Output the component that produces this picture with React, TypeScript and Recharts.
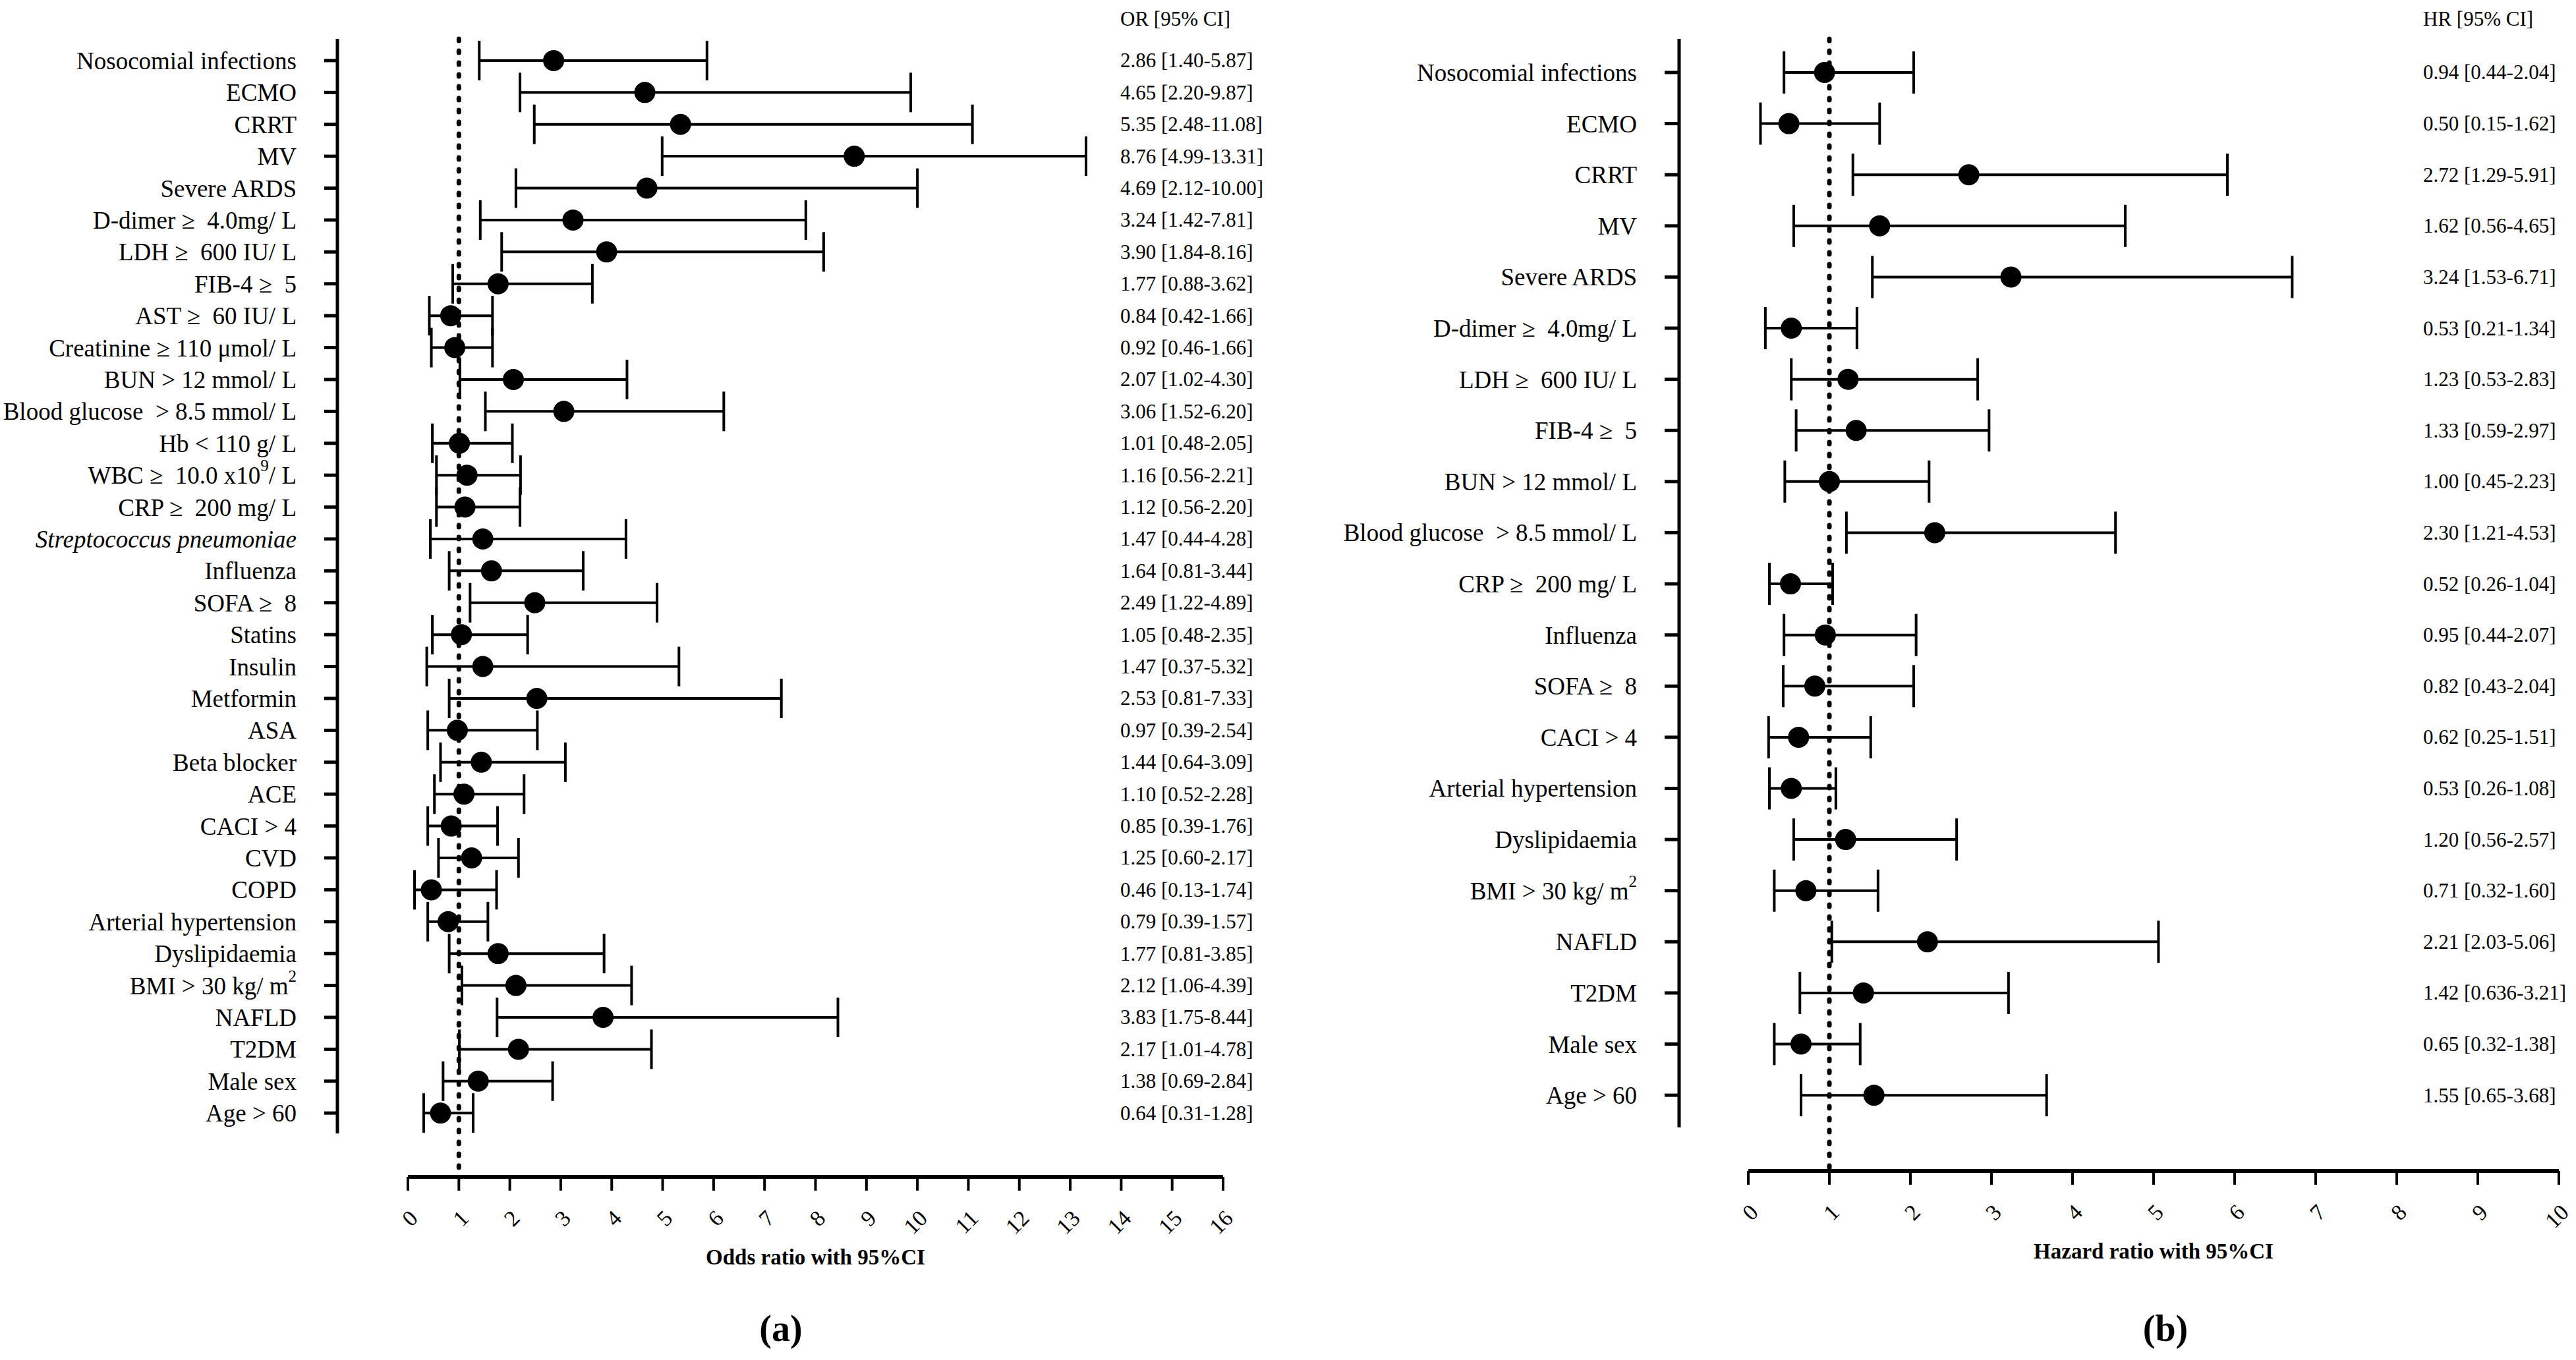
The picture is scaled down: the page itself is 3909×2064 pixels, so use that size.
import { ScatterChart, Scatter, XAxis, YAxis, ErrorBar, ReferenceLine } from "recharts";

const FONT = '"Liberation Serif", "Times New Roman", serif';

// ---- (a) odds ratios ----
const orLabels = [
  "Nosocomial infections", "ECMO", "CRRT", "MV", "Severe ARDS",
  "D-dimer ≥  4.0mg/ L", "LDH ≥  600 IU/ L", "FIB-4 ≥  5", "AST ≥  60 IU/ L",
  "Creatinine ≥ 110 μmol/ L", "BUN > 12 mmol/ L", "Blood glucose  > 8.5 mmol/ L",
  "Hb < 110 g/ L", "WBC ≥  10.0 x10{9}/ L", "CRP ≥  200 mg/ L", "Streptococcus pneumoniae",
  "Influenza", "SOFA ≥  8", "Statins", "Insulin", "Metformin", "ASA", "Beta blocker",
  "ACE", "CACI > 4", "CVD", "COPD", "Arterial hypertension", "Dyslipidaemia",
  "BMI > 30 kg/ m{2}", "NAFLD", "T2DM", "Male sex", "Age > 60"
];
const orValues = [2.86, 4.65, 5.35, 8.76, 4.69, 3.24, 3.90, 1.77, 0.84, 0.92, 2.07, 3.06, 1.01, 1.16, 1.12, 1.47, 1.64, 2.49, 1.05, 1.47, 2.53, 0.97, 1.44, 1.10, 0.85, 1.25, 0.46, 0.79, 1.77, 2.12, 3.83, 2.17, 1.38, 0.64];
const orLower = [1.40, 2.20, 2.48, 4.99, 2.12, 1.42, 1.84, 0.88, 0.42, 0.46, 1.02, 1.52, 0.48, 0.56, 0.56, 0.44, 0.81, 1.22, 0.48, 0.37, 0.81, 0.39, 0.64, 0.52, 0.39, 0.60, 0.13, 0.39, 0.81, 1.06, 1.75, 1.01, 0.69, 0.31];
const orUpper = [5.87, 9.87, 11.08, 13.31, 10.00, 7.81, 8.16, 3.62, 1.66, 1.66, 4.30, 6.20, 2.05, 2.21, 2.20, 4.28, 3.44, 4.89, 2.35, 5.32, 7.33, 2.54, 3.09, 2.28, 1.76, 2.17, 1.74, 1.57, 3.85, 4.39, 8.44, 4.78, 2.84, 1.28];
const orText = [
  "2.86 [1.40-5.87]", "4.65 [2.20-9.87]", "5.35 [2.48-11.08]", "8.76 [4.99-13.31]", "4.69 [2.12-10.00]",
  "3.24 [1.42-7.81]", "3.90 [1.84-8.16]", "1.77 [0.88-3.62]", "0.84 [0.42-1.66]", "0.92 [0.46-1.66]",
  "2.07 [1.02-4.30]", "3.06 [1.52-6.20]", "1.01 [0.48-2.05]", "1.16 [0.56-2.21]", "1.12 [0.56-2.20]",
  "1.47 [0.44-4.28]", "1.64 [0.81-3.44]", "2.49 [1.22-4.89]", "1.05 [0.48-2.35]", "1.47 [0.37-5.32]",
  "2.53 [0.81-7.33]", "0.97 [0.39-2.54]", "1.44 [0.64-3.09]", "1.10 [0.52-2.28]", "0.85 [0.39-1.76]",
  "1.25 [0.60-2.17]", "0.46 [0.13-1.74]", "0.79 [0.39-1.57]", "1.77 [0.81-3.85]", "2.12 [1.06-4.39]",
  "3.83 [1.75-8.44]", "2.17 [1.01-4.78]", "1.38 [0.69-2.84]", "0.64 [0.31-1.28]"
];
const orTicks = [0, 1, 2, 3, 4, 5, 6, 7, 8, 9, 10, 11, 12, 13, 14, 15, 16];
const orItalic = ["Streptococcus pneumoniae"];

// ---- (b) hazard ratios ----
const hrLabels = [
  "Nosocomial infections", "ECMO", "CRRT", "MV", "Severe ARDS", "D-dimer ≥  4.0mg/ L",
  "LDH ≥  600 IU/ L", "FIB-4 ≥  5", "BUN > 12 mmol/ L", "Blood glucose  > 8.5 mmol/ L",
  "CRP ≥  200 mg/ L", "Influenza", "SOFA ≥  8", "CACI > 4", "Arterial hypertension",
  "Dyslipidaemia", "BMI > 30 kg/ m{2}", "NAFLD", "T2DM", "Male sex", "Age > 60"
];
const hrValues = [0.94, 0.50, 2.72, 1.62, 3.24, 0.53, 1.23, 1.33, 1.00, 2.30, 0.52, 0.95, 0.82, 0.62, 0.53, 1.20, 0.71, 2.21, 1.42, 0.65, 1.55];
const hrLower = [0.44, 0.15, 1.29, 0.56, 1.53, 0.21, 0.53, 0.59, 0.45, 1.21, 0.26, 0.44, 0.43, 0.25, 0.26, 0.56, 0.32, 1.03, 0.636, 0.32, 0.65];
const hrUpper = [2.04, 1.62, 5.91, 4.65, 6.71, 1.34, 2.83, 2.97, 2.23, 4.53, 1.04, 2.07, 2.04, 1.51, 1.08, 2.57, 1.60, 5.06, 3.21, 1.38, 3.68];
const hrText = [
  "0.94 [0.44-2.04]", "0.50 [0.15-1.62]", "2.72 [1.29-5.91]", "1.62 [0.56-4.65]", "3.24 [1.53-6.71]",
  "0.53 [0.21-1.34]", "1.23 [0.53-2.83]", "1.33 [0.59-2.97]", "1.00 [0.45-2.23]", "2.30 [1.21-4.53]",
  "0.52 [0.26-1.04]", "0.95 [0.44-2.07]", "0.82 [0.43-2.04]", "0.62 [0.25-1.51]", "0.53 [0.26-1.08]",
  "1.20 [0.56-2.57]", "0.71 [0.32-1.60]", "2.21 [2.03-5.06]", "1.42 [0.636-3.21]", "0.65 [0.32-1.38]",
  "1.55 [0.65-3.68]"
];
const hrTicks = [0, 1, 2, 3, 4, 5, 6, 7, 8, 9, 10];

const rowTick = (labels: string[], italic: string[]) => (props: any) => {
  const { x, y, payload } = props;
  const label = labels[payload.value] ?? "";
  const parts = label.split(/[{}]/);
  return (
    <text
      x={x}
      y={y}
      textAnchor="end"
      dominantBaseline="central"
      fontFamily={FONT}
      fontSize={37}
      fill="#000"
      fontStyle={italic.includes(label) ? "italic" : "normal"}
      style={{ whiteSpace: "pre" }}
    >
      {parts.map((p, i) =>
        i % 2 === 1 ? (
          <tspan key={i} dy={-15} fontSize={25}>{p}</tspan>
        ) : (
          <tspan key={i} dy={i > 0 ? 15 : 0}>{p}</tspan>
        )
      )}
    </text>
  );
};

const statTick = (texts: string[], shift: number) => (props: any) => (
  <text
    x={props.x + shift}
    y={props.y}
    textAnchor="start"
    dominantBaseline="central"
    fontFamily={FONT}
    fontSize={31}
    fill="#000"
  >
    {texts[props.payload.value]}
  </text>
);

const dot = (props: any) => <circle cx={props.cx} cy={props.cy} r={16} fill="#000" />;

type PanelProps = {
  labels: string[];
  values: number[];
  lower: number[];
  upper: number[];
  texts: string[];
  italic: string[];
  ticks: number[];
  title: string;
  width: number;
  labelWidth: number;
  rightWidth: number;
  statShift: number;
  xMin: number;
  yTop: number;
  yAxisEnd: number;
  yBottom: number;
  xAxisHeight: number;
  tickSize: number;
  capWidth: number;
};

function Panel(p: PanelProps) {
  const rows = p.labels.map((_, i) => ({
    row: i,
    value: p.values[i],
    err: [p.values[i] - p.lower[i], p.upper[i] - p.values[i]],
  }));
  const rowIdx = p.labels.map((_, i) => i);
  const xMax = p.ticks[p.ticks.length - 1];

  return (
    <ScatterChart
      width={p.width}
      height={2064}
      margin={{ top: 59, right: 0, bottom: 0, left: 0 }}
    >
      <XAxis
        type="number"
        dataKey="value"
        domain={[p.xMin, xMax]}
        ticks={p.ticks}
        interval={0}
        allowDataOverflow
        axisLine={false}
        tickLine={{ stroke: "#000", strokeWidth: 4 }}
        tickSize={21}
        tickMargin={27}
        height={p.xAxisHeight}
        tick={{ angle: -45, textAnchor: "end", verticalAnchor: "middle", fontSize: 34, fontFamily: FONT, fill: "#000" }}
      />
      <YAxis
        yAxisId="rows"
        type="number"
        dataKey="row"
        domain={[p.yTop, p.yBottom]}
        reversed
        allowDataOverflow
        ticks={rowIdx}
        interval={0}
        width={p.labelWidth}
        axisLine={false}
        tickLine={{ stroke: "#000", strokeWidth: 5 }}
        tickSize={p.tickSize}
        tickMargin={42}
        tick={rowTick(p.labels, p.italic)}
      />
      <YAxis
        yAxisId="stats"
        orientation="right"
        type="number"
        domain={[p.yTop, p.yBottom]}
        reversed
        allowDataOverflow
        ticks={rowIdx}
        interval={0}
        width={p.rightWidth}
        axisLine={false}
        tickLine={false}
        tickSize={0}
        tickMargin={0}
        tick={statTick(p.texts, p.statShift)}
      />
      <ReferenceLine
        yAxisId="rows"
        segment={[{ x: p.xMin, y: p.yTop }, { x: p.xMin, y: p.yAxisEnd }]}
        stroke="#000"
        strokeWidth={5}
        ifOverflow="visible"
      />
      <ReferenceLine
        yAxisId="rows"
        segment={[{ x: 0, y: p.yBottom }, { x: xMax, y: p.yBottom }]}
        stroke="#000"
        strokeWidth={6}
        ifOverflow="visible"
        label={{ value: p.title, position: "bottom", offset: 110, fontSize: 33, fontWeight: "bold", fontFamily: FONT, fill: "#000" }}
      />
      <ReferenceLine
        yAxisId="rows"
        segment={[{ x: 1, y: p.yTop }, { x: 1, y: p.yBottom }]}
        stroke="#000"
        strokeWidth={7}
        strokeDasharray="3 15"
        strokeLinecap="round"
        ifOverflow="visible"
      />
      <Scatter yAxisId="rows" data={rows} shape={dot} isAnimationActive={false}>
        <ErrorBar dataKey="err" direction="x" width={p.capWidth} stroke="#000" strokeWidth={4} isAnimationActive={false} />
      </Scatter>
    </ScatterChart>
  );
}

const textStyle = { position: "absolute" as const, fontFamily: FONT, color: "#000", lineHeight: 1, whiteSpace: "nowrap" as const };

export default function App() {
  return (
    <div style={{ position: "absolute", left: 0, top: 0, width: 3909, height: 2064, background: "#fff" }}>
      <div style={{ position: "absolute", left: 0, top: 0 }}>
        <Panel
          labels={orLabels}
          values={orValues}
          lower={orLower}
          upper={orUpper}
          texts={orText}
          italic={orItalic}
          ticks={orTicks}
          title="Odds ratio with 95%CI"
          width={1960}
          labelWidth={512}
          rightWidth={104}
          statShift={-156}
          xMin={-1.384}
          yTop={-0.68}
          yAxisEnd={33.64}
          yBottom={35.0}
          xAxisHeight={278}
          tickSize={20}
          capWidth={30}
        />
      </div>
      <div style={{ position: "absolute", left: 1960, top: 0 }}>
        <Panel
          labels={hrLabels}
          values={hrValues}
          lower={hrLower}
          upper={hrUpper}
          texts={hrText}
          italic={[]}
          ticks={hrTicks}
          title="Hazard ratio with 95%CI"
          width={1949}
          labelWidth={588}
          rightWidth={26}
          statShift={-206}
          xMin={-0.854}
          yTop={-0.657}
          yAxisEnd={20.63}
          yBottom={21.48}
          xAxisHeight={287}
          tickSize={22}
          capWidth={32}
        />
      </div>
      <div style={{ ...textStyle, left: 1700, top: 13, fontSize: 31 }}>OR [95% CI]</div>
      <div style={{ ...textStyle, left: 3677, top: 13, fontSize: 31 }}>HR [95% CI]</div>
      <div style={{ ...textStyle, left: 1085, top: 1988, width: 200, textAlign: "center", fontSize: 56, fontWeight: "bold" }}>(a)</div>
      <div style={{ ...textStyle, left: 3186, top: 1988, width: 200, textAlign: "center", fontSize: 56, fontWeight: "bold" }}>(b)</div>
    </div>
  );
}
